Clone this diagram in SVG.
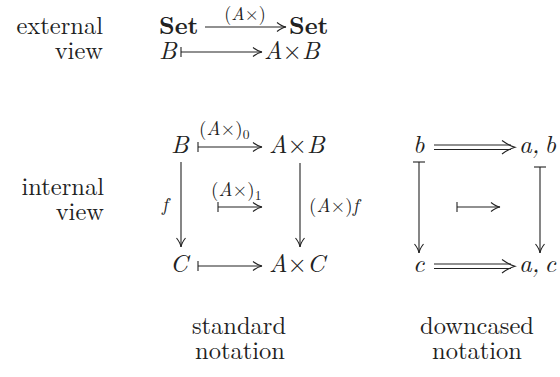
<svg xmlns="http://www.w3.org/2000/svg" width="560" height="377" viewBox="0 0 560 377">
<style>
.w{font-size:24.5px}
.m{font-size:25px;font-style:italic}
.u{font-style:normal}
.bf{font-size:24.5px;font-weight:bold}
.lb{font-size:19px}
.c line,.c path{stroke:#222;stroke-width:1.1;fill:none}
</style>
<defs>
<marker id="ah" markerUnits="userSpaceOnUse" viewBox="-11 -6 12 12" refX="0" refY="0" markerWidth="12" markerHeight="12" orient="auto" overflow="visible">
<path d="M-9,-4.5 Q-4,-0.6 0,0 Q-4,0.6 -9,4.5" fill="none" stroke="#222" stroke-width="1.1"/>
</marker>
<marker id="bar" markerUnits="userSpaceOnUse" viewBox="-2 -6 4 12" refX="0" refY="0" markerWidth="4" markerHeight="12" orient="auto" overflow="visible">
<line x1="0" y1="-5" x2="0" y2="5" stroke="#222" stroke-width="1.1"/>
</marker>
<marker id="bar2" markerUnits="userSpaceOnUse" viewBox="-2 -7 4 14" refX="0" refY="0" markerWidth="4" markerHeight="14" orient="auto" overflow="visible">
<line x1="0" y1="-6" x2="0" y2="6" stroke="#222" stroke-width="1.1"/>
</marker>
</defs>

<g font-family="Latin Modern Roman" fill="#222">
<g id="labels">
<text class="w" x="103" y="34" text-anchor="end">external</text>
<text class="w" x="103" y="59" text-anchor="end">view</text>
<text class="w" x="104" y="195" text-anchor="end">internal</text>
<text class="w" x="104" y="220" text-anchor="end">view</text>
<text class="w" x="239" y="334" text-anchor="middle">standard</text>
<text class="w" x="240" y="359" text-anchor="middle">notation</text>
<text class="w" x="477" y="334" text-anchor="middle">downcased</text>
<text class="w" x="477" y="359" text-anchor="middle">notation</text>
</g>

<g id="set1"><text class="bf" x="159" y="34">Set</text></g>
<g id="set2"><text class="bf" x="289" y="34">Set</text></g>
<g id="ext-B"><text class="m" x="159" y="59">B</text></g>
<g id="ext-AB"><text class="m" x="264" y="59">A<tspan class="u">×</tspan>B</text></g>

<g id="n-B"><text class="m" x="171" y="153">B</text></g>
<g id="n-AB"><text class="m" x="269" y="153">A<tspan class="u">×</tspan>B</text></g>
<g id="n-C"><text class="m" x="170" y="272">C</text></g>
<g id="n-AC"><text class="m" x="269" y="272">A<tspan class="u">×</tspan>C</text></g>

<g id="d-b"><text class="m" x="413" y="153">b</text></g>
<g id="d-ab"><text class="m" x="519" y="153" word-spacing="-4">a, b</text></g>
<g id="d-c"><text class="m" x="413" y="272">c</text></g>
<g id="d-ac"><text class="m" x="519" y="272" word-spacing="-4">a, c</text></g>

<g id="edge-labels">
<text x="245" y="20" font-size="18" text-anchor="middle">(<tspan font-style="italic">A</tspan>×)</text>
<text class="lb" x="199" y="135">(<tspan font-style="italic">A</tspan>×)<tspan font-size="13.5" dy="4">0</tspan></text>
<text class="lb" x="211" y="196">(<tspan font-style="italic">A</tspan>×)<tspan font-size="13.5" dy="4">1</tspan></text>
<text class="lb" x="162" y="211" font-style="italic">f</text>
<text class="lb" x="309" y="212">(<tspan font-style="italic">A</tspan>×)<tspan font-style="italic">f</tspan></text>
</g>
</g>

<g id="connectors" class="c">
<line x1="205" y1="27" x2="286" y2="27" marker-end="url(#ah)"/>
<line x1="181" y1="52" x2="262" y2="52" marker-start="url(#bar)" marker-end="url(#ah)"/>
<line x1="198" y1="147" x2="262" y2="147" marker-start="url(#bar)" marker-end="url(#ah)"/>
<line x1="198" y1="266" x2="262" y2="266" marker-start="url(#bar)" marker-end="url(#ah)"/>
<line x1="181" y1="162" x2="181" y2="247" marker-end="url(#ah)"/>
<line x1="300" y1="163" x2="300" y2="247" marker-end="url(#ah)"/>
<line x1="218" y1="207" x2="262" y2="207" marker-start="url(#bar)" marker-end="url(#ah)"/>
<line x1="419" y1="162" x2="419" y2="253" marker-start="url(#bar2)" marker-end="url(#ah)"/>
<line x1="540" y1="167" x2="540" y2="253" marker-start="url(#bar2)" marker-end="url(#ah)"/>
<line x1="457" y1="207" x2="500" y2="207" marker-start="url(#bar)" marker-end="url(#ah)"/>
<line x1="434" y1="145" x2="511" y2="145"/>
<line x1="434" y1="149.5" x2="511" y2="149.5"/>
<path d="M502,140.5 Q509,145.5 515,147.3 Q509,149 502,154"/>
<line x1="434" y1="264" x2="511" y2="264"/>
<line x1="434" y1="268.5" x2="511" y2="268.5"/>
<path d="M502,259.5 Q509,264.5 515,266.3 Q509,268 502,273"/>
</g>
</svg>
